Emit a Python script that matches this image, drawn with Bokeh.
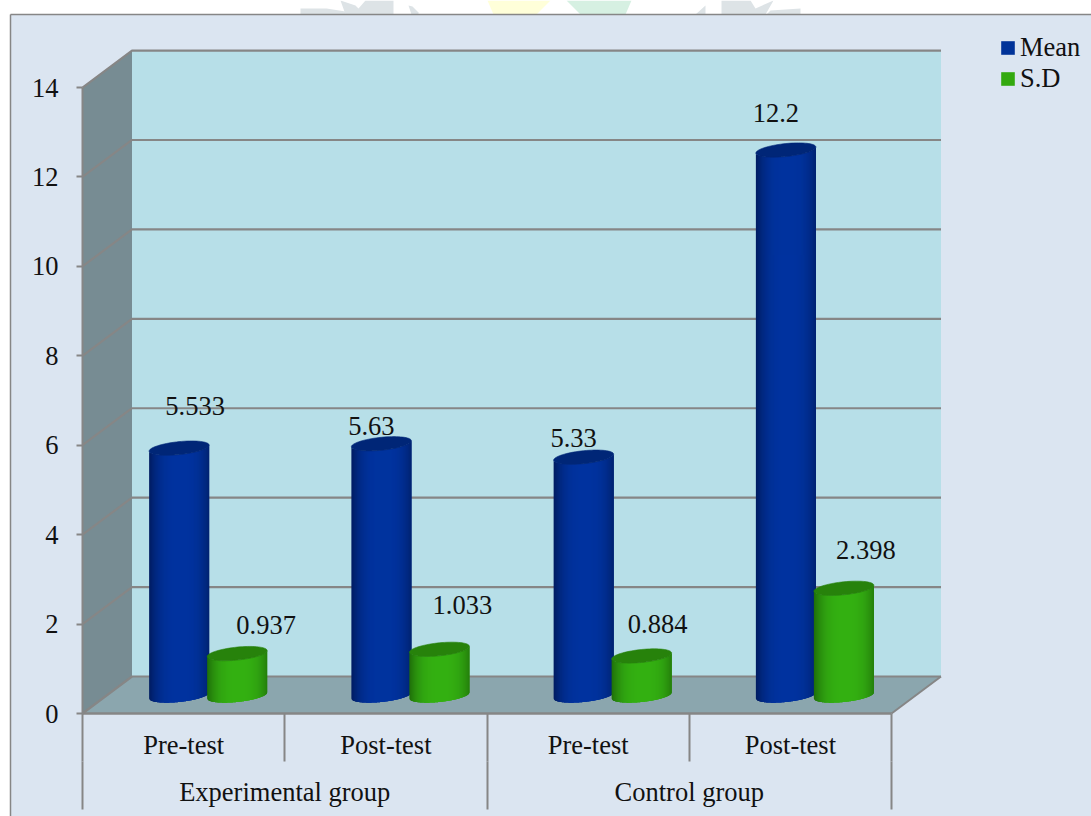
import math

from bokeh.core.properties import value
from bokeh.embed import file_html
from bokeh.models import FixedTicker, Legend, LegendItem, LinearAxis, Range1d
from bokeh.plotting import figure
from bokeh.resources import INLINE

# Chart values
groups = ["Experimental group", "Control group"]
tests = ["Pre-test", "Post-test", "Pre-test", "Post-test"]
mean_values = [5.533, 5.63, 5.33, 12.2]
sd_values = [0.937, 1.033, 0.884, 2.398]
y_ticks = [0, 2, 4, 6, 8, 10, 12, 14]

# Label nudges in pixels, relative to the top of each cylinder
mean_label_nudge = [(16, -42), (-10, -18), (-10, -19), (-10, -37)]
sd_label_nudge = [(29, -29), (23, -44), (16, -32), (22, -38)]

WIDTH, HEIGHT = 1091, 816
ZERO_PX, PX_PER_UNIT = 713.0, 44.71
LEFT_PX, PX_PER_CAT = 82.0, 202.25
DEPTH_X, DEPTH_Y = 49.5, 37.0

FONT_NAME = "Liberation Serif"
FONT = value(FONT_NAME)
FONT_SIZE = "26.5px"
GREY = "#868686"


def X(px):
    return (px - LEFT_PX) / PX_PER_CAT


def Y(px):
    return (ZERO_PX - px) / PX_PER_UNIT


p = figure(
    width=WIDTH,
    height=HEIGHT,
    x_range=Range1d(X(0), X(WIDTH)),
    y_range=Range1d(Y(HEIGHT), Y(0)),
    output_backend="svg",
    toolbar_location=None,
    min_border=0,
    x_axis_type=None,
    y_axis_type=None,
    outline_line_color=None,
    background_fill_color="white",
    border_fill_color="white",
)
p.grid.visible = False


def poly(xs_px, ys_px, color):
    p.patch([X(v) for v in xs_px], [Y(v) for v in ys_px], fill_color=color, line_color=None)


# Faint letterhead artwork behind the top edge of the page
for xs, ys, c in [
    ([300, 326, 345, 345, 300], [8, 8, 11, 14, 14], "#dde3e6"),
    ([340, 355, 358, 365, 393, 393, 345], [0, 5, 8, 0, 0, 14, 14], "#dde3e6"),
    ([408, 412, 418, 418, 411], [5, 6, 12, 14, 14], "#dde3e6"),
    ([487, 550, 536, 493], [0, 0, 14, 14], "#ffffd9"),
    ([566, 631, 625, 580], [0, 0, 14, 14], "#d6f0e2"),
    ([695, 705, 705, 692], [14, 5, 14, 14], "#dde3e6"),
    ([721, 750, 755, 773, 765, 721], [0, 0, 8, 0, 14, 14], "#dde3e6"),
    ([770, 800, 800, 766], [10, 8, 14, 14], "#dde3e6"),
]:
    poly(xs, ys, c)

# Chart area
poly([10, WIDTH + 2, WIDTH + 2, 10], [14, 14, HEIGHT + 2, HEIGHT + 2], "#dbe5f1")
p.segment(X(10), Y(14), X(WIDTH), Y(14), line_color=GREY, line_width=1.5)
p.segment(X(10), Y(14), X(10), Y(HEIGHT), line_color=GREY, line_width=1.5)

# Box: back wall, side wall, floor
front_r = X(LEFT_PX) + 4
dx = DEPTH_X / PX_PER_CAT
dy = DEPTH_Y / PX_PER_UNIT
p.patch([dx, front_r + dx, front_r + dx, dx], [dy, dy, 14 + dy, 14 + dy],
        fill_color="#b7dfe8", line_color=None)
p.patch([0, dx, dx, 0], [0, dy, 14 + dy, 14], fill_color="#778c93", line_color=None)
p.patch([0, front_r, front_r + dx, dx], [0, 0, dy, dy], fill_color="#8ba6ae", line_color=None)

# Gridlines run along the back wall and down the side wall
for t in y_ticks:
    p.line([0, dx, front_r + dx], [t, t + dy, t + dy], line_color=GREY, line_width=2.2)
p.line([front_r, front_r + dx], [0, dy], line_color=GREY, line_width=2)


def lerp(a, b, t):
    return a + (b - a) * t


def hex_rgb(c):
    return tuple(int(c[i:i + 2], 16) for i in (1, 3, 5))


def shade(dark, bright, u):
    # u runs from -1 to 1 across the cylinder; the highlight sits slightly off centre
    t = 1 - min(1.0, abs(u - 0.05) / 1.05) ** 3
    a, b = hex_rgb(dark), hex_rgb(bright)
    return "#%02x%02x%02x" % tuple(round(lerp(a[i], b[i], t)) for i in range(3))


RADIUS, CAP_B, TILT = 30.0, 6.5, 0.1
BASE_PX = 18.0
STRIPS = 60


def cylinder(center_px, val, dark, bright, cap):
    base = ZERO_PX - BASE_PX
    top = base - val * PX_PER_UNIT

    def low(u):
        return CAP_B * math.sqrt(max(0.0, 1 - u * u)) - TILT * RADIUS * u

    # Each strip runs on under its right neighbour so no seams show between them
    for i in range(STRIPS):
        u_mid = -1 + 2 * (i + 0.5) / STRIPS
        color = shade(dark, bright, u_mid)
        us = [-1 + 2 * i / STRIPS + 2 * k / (STRIPS * 4) for k in range(13)]
        us = [min(u, 1.0) for u in us]
        xs_top = [center_px + RADIUS * u for u in us]
        p.patch(
            [X(v) for v in xs_top + xs_top[::-1]],
            [Y(top + low(u)) for u in us] + [Y(base + low(u)) for u in us[::-1]],
            fill_color=color, line_color=None,
        )
    ring = [2 * math.pi * k / 72 for k in range(72)]
    p.patch(
        [X(center_px + RADIUS * math.cos(a)) for a in ring],
        [Y(top + CAP_B * math.sin(a) - TILT * RADIUS * math.cos(a)) for a in ring],
        fill_color=cap, line_color=cap, line_width=0.6,
    )
    return top


label_x, label_y, label_text = [], [], []
for i in range(len(tests)):
    pair_px = LEFT_PX + (i + 0.5) * PX_PER_CAT + 24.5
    m_top = cylinder(pair_px - 29, mean_values[i], "#001c60", "#00339f", "#002677")
    s_top = cylinder(pair_px + 29, sd_values[i], "#1f6e0a", "#34b012", "#27820b")
    label_x += [X(pair_px - 29 + mean_label_nudge[i][0]), X(pair_px + 29 + sd_label_nudge[i][0])]
    label_y += [Y(m_top + mean_label_nudge[i][1]), Y(s_top + sd_label_nudge[i][1])]
    label_text += [str(mean_values[i]), str(sd_values[i])]

p.text(label_x, label_y, text=label_text, text_font=FONT, text_font_size=FONT_SIZE,
       text_color="#111111", text_align="center", text_baseline="middle")

# Value axis on the front-left edge
y_axis = LinearAxis(
    ticker=FixedTicker(ticks=y_ticks),
    fixed_location=0,
    bounds=(0, 14),
    axis_line_color=GREY,
    axis_line_width=2,
    major_tick_line_color=GREY,
    major_tick_line_width=2,
    major_tick_in=0,
    major_tick_out=6,
    minor_tick_line_color=None,
    major_label_text_font=FONT_NAME,
    major_label_text_font_size=FONT_SIZE,
    major_label_text_color="#111111",
    major_label_standoff=18,
)
p.add_layout(y_axis, "left")


def cat_axis(level_px, ticks, labels=None, tick_len=0, standoff=0):
    ax = LinearAxis(
        ticker=FixedTicker(ticks=ticks),
        fixed_location=Y(level_px),
        axis_line_color=None,
        major_tick_line_color=GREY if tick_len else None,
        major_tick_line_width=2,
        major_tick_in=0,
        major_tick_out=tick_len,
        minor_tick_line_color=None,
        major_label_text_font=FONT_NAME,
        major_label_text_font_size=FONT_SIZE,
        major_label_text_color="#111111",
        major_label_standoff=standoff,
        major_label_overrides={float(t): (labels[k] if labels else "") for k, t in enumerate(ticks)},
    )
    p.add_layout(ax, "below")
    return ax


n = len(tests)
cat_axis(ZERO_PX, list(range(n + 1)), tick_len=48)
cat_axis(ZERO_PX + 48, [0, 2, 4], tick_len=48)
cat_axis(ZERO_PX, [k + 0.5 for k in range(n)], labels=tests, standoff=16)
cat_axis(ZERO_PX, [1, 3], labels=groups, standoff=63)
# Baseline of the category axis sits over the floor's front edge
p.line([0, front_r], [0, 0], line_color=GREY, line_width=2.4)

# Legend keys
nan = float("nan")
r_mean = p.quad(left=[nan], right=[nan], top=[nan], bottom=[nan], fill_color="#003399", line_color=None)
r_sd = p.quad(left=[nan], right=[nan], top=[nan], bottom=[nan], fill_color="#33a90f", line_color=None)
legend = Legend(
    items=[LegendItem(label="Mean", renderers=[r_mean]), LegendItem(label="S.D", renderers=[r_sd])],
    location=(999, 816 - 94),
    orientation="vertical",
    background_fill_alpha=0,
    border_line_color=None,
    glyph_width=17,
    glyph_height=17,
    label_text_font=FONT_NAME,
    label_text_font_size=FONT_SIZE,
    label_text_color="#111111",
    label_standoff=4,
    label_height=26,
    spacing=-2,
    margin=0,
    padding=1,
)
p.add_layout(legend, "center")

open("out.html", "w").write(file_html(p, INLINE))
